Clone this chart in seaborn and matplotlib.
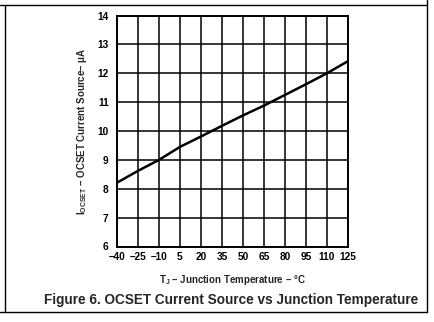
import matplotlib
matplotlib.use("Agg")
import matplotlib.pyplot as plt
from matplotlib.lines import Line2D
import seaborn as sns
import pandas as pd

# Junction temperature (°C) and OCSET current source (µA)
temperature = [-40, -25, -10, 5, 20, 35, 50, 65, 80, 95, 110, 125]
current = [8.21, 8.62, 9.00, 9.45, 9.81, 10.18, 10.54, 10.88, 11.25, 11.62, 12.00, 12.42]

x_ticks = [-40, -25, -10, 5, 20, 35, 50, 65, 80, 95, 110, 125]
y_ticks = [6, 7, 8, 9, 10, 11, 12, 13, 14]

sns.set_theme(style="white")
plt.rcParams["font.family"] = ["Liberation Sans", "DejaVu Sans"]
plt.rcParams["font.weight"] = "bold"
plt.rcParams["mathtext.fontset"] = "custom"
plt.rcParams["mathtext.rm"] = "Liberation Sans:bold"
plt.rcParams["mathtext.bf"] = "Liberation Sans:bold"
plt.rcParams["mathtext.it"] = "Liberation Sans:bold"

df = pd.DataFrame({"T": temperature, "I": current})

fig = plt.figure(figsize=(4.34, 3.22), dpi=100)
ax = fig.add_axes([117 / 434, 1 - 246.5 / 322, 231 / 434, 231 / 322])

sns.lineplot(data=df, x="T", y="I", ax=ax, color="black", linewidth=1.8)

ax.set_xlim(-40, 125)
ax.set_ylim(6, 14)
ax.set_xticks(x_ticks)
ax.set_yticks(y_ticks)
ax.set_xticklabels([str(t).replace("-", "\u2013") for t in x_ticks],
                   fontsize=7.3, fontweight="bold")
ax.set_yticklabels([str(t) for t in y_ticks], fontsize=7.3, fontweight="bold")
ax.tick_params(axis="x", length=0, pad=4, colors="black")
ax.tick_params(axis="y", length=0, pad=6, colors="black")
for lab in ax.get_yticklabels():
    lab.set_verticalalignment("center_baseline")

ax.grid(True, color="black", linewidth=1.1)
for s in ax.spines.values():
    s.set_color("black")
    s.set_linewidth(1.4)

ax.set_xlabel("T$_\\mathregular{J}$ \u2013 Junction Temperature \u2013 \u00b0C",
              fontsize=7, fontweight="bold", labelpad=8)
ax.set_ylabel("I$_\\mathregular{OCSET}$ \u2013 OCSET Current Source\u2013 \u03bcA",
              fontsize=7, fontweight="bold", labelpad=6)

fig.text(418 / 434, 1 - 300 / 322,
         "Figure 6. OCSET Current Source vs Junction Temperature",
         ha="right", va="center", fontsize=9.8, fontweight="bold")

# Table cell border around the figure
for xs, ys in [((0, 427 / 434), (1 - 5 / 322, 1 - 5 / 322)),
               ((0, 427 / 434), (1 - 312 / 322, 1 - 312 / 322)),
               ((5 / 434, 5 / 434), (1 - 5 / 322, 1 - 312 / 322)),
               ((427 / 434, 427 / 434), (1, 1 - 312 / 322))]:
    fig.add_artist(Line2D(xs, ys, transform=fig.transFigure, color="black", linewidth=1.0))

fig.savefig("out.png", dpi=100, facecolor="white")
